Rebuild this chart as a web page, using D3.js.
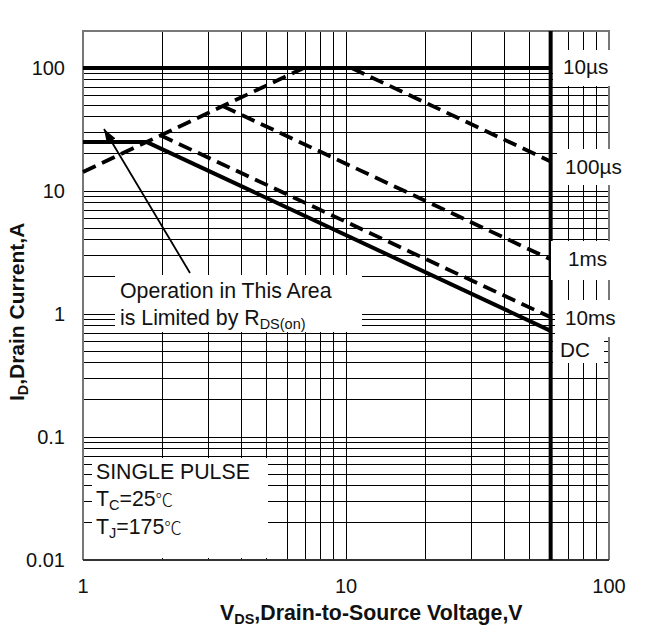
<!DOCTYPE html>
<html>
<head>
<meta charset="utf-8">
<script src="https://cdn.jsdelivr.net/npm/d3@7"></script>
<style>
  html, body { margin: 0; padding: 0; background: #fff; }
  svg { display: block; }
  text { font-family: "Liberation Sans", Arial, sans-serif; fill: #111; }
</style>
</head>
<body>
<svg id="chart" width="668" height="642"></svg>
<script>
// ---------- values ----------
const xMajor = [1, 10, 100];
const yMajor = [100, 10, 1, 0.1, 0.01];
const xMinor = [2, 3, 4, 5, 6, 7, 8, 9, 20, 30, 40, 50, 60, 70, 80, 90];
const yMinor = [90, 80, 70, 60, 50, 40, 30, 20,
  9, 8, 7, 6, 5, 4, 3, 2,
  0.9, 0.8, 0.7, 0.6, 0.5, 0.4, 0.3, 0.2,
  0.09, 0.08, 0.07, 0.06, 0.05, 0.04, 0.03, 0.02];

const currentLimit = [[1, 100], [60, 100]];
const voltageLimit = [[60, 200], [60, 0.01]];
const packageLimit = [[1, 25], [1.75, 25]];
const rdsLimit = [[1, 14.3], [6.9, 100]];
const curveDC = [[1.75, 25], [60, 0.73]];
const curve10ms = [[1.96, 28.5], [60, 0.94]];
const curve1ms = [[3.4, 49], [60, 2.78]];
const curve100us = [[10.5, 100], [60, 17.4]];

const svg = d3.select("#chart");
const x = d3.scaleLog().domain([1, 100]).range([83, 609]);
const y = d3.scaleLog().domain([0.01, 200]).range([560, 31]);
const line = d3.line().x((d) => x(d[0])).y((d) => y(d[1]));

// ---------- grid ----------
const grid = svg.append("g").attr("stroke", "#000").attr("stroke-width", 1).attr("shape-rendering", "crispEdges");
grid.selectAll("line.v").data(xMinor.concat([10])).join("line")
  .attr("class", "v")
  .attr("x1", (d) => x(d)).attr("x2", (d) => x(d))
  .attr("y1", y.range()[1]).attr("y2", y.range()[0]);
grid.selectAll("line.h").data(yMinor.concat([10, 1, 0.1])).join("line")
  .attr("class", "h")
  .attr("x1", x.range()[0]).attr("x2", x.range()[1])
  .attr("y1", (d) => y(d)).attr("y2", (d) => y(d));

// ---------- frame ----------
svg.append("path")
  .attr("d", `M${x.range()[0]},${y.range()[0]}V${y.range()[1]}H${x.range()[1]}V${y.range()[0]}`)
  .attr("fill", "none").attr("stroke", "#777").attr("stroke-width", 2);
svg.append("line")
  .attr("x1", x.range()[0]).attr("x2", x.range()[1])
  .attr("y1", y.range()[0]).attr("y2", y.range()[0])
  .attr("stroke", "#333").attr("stroke-width", 2);

// ---------- curves ----------
const curves = svg.append("g").attr("fill", "none").attr("stroke", "#000");
[currentLimit, voltageLimit, packageLimit, curveDC].forEach((c) => {
  curves.append("path").attr("d", line(c)).attr("stroke-width", 4);
});
[rdsLimit, curve10ms, curve1ms, curve100us].forEach((c) => {
  curves.append("path").attr("d", line(c)).attr("stroke-width", 3.8).attr("stroke-dasharray", "14 7");
});

// ---------- white label boxes over the grid ----------
const boxes = [
  [553, 50, 60, 36], [557, 149, 68, 36], [551, 241, 64, 39], [555, 300, 64, 37], [553, 337, 51, 26],
  [115, 275, 247, 57], [92, 458, 176, 100]
];
svg.append("g").selectAll("rect").data(boxes).join("rect")
  .attr("x", (d) => d[0]).attr("y", (d) => d[1])
  .attr("width", (d) => d[2]).attr("height", (d) => d[3])
  .attr("fill", "#fff");

// ---------- arrow ----------
svg.append("defs").append("marker")
  .attr("id", "head").attr("viewBox", "0 0 14 10").attr("refX", 14).attr("refY", 5)
  .attr("markerWidth", 14).attr("markerHeight", 11).attr("markerUnits", "userSpaceOnUse").attr("orient", "auto")
  .append("path").attr("d", "M0,0L14,5L0,10Z").attr("fill", "#000");
svg.append("line")
  .attr("x1", 190).attr("y1", 273).attr("x2", 104).attr("y2", 129)
  .attr("stroke", "#000").attr("stroke-width", 1.8).attr("marker-end", "url(#head)");

// ---------- tick labels ----------
const fmt = (d) => String(d);
svg.selectAll("text.xt").data(xMajor).join("text")
  .attr("class", "xt").attr("x", (d) => x(d)).attr("y", 593)
  .attr("text-anchor", "middle").attr("font-size", 20).text(fmt);
svg.selectAll("text.yt").data(yMajor).join("text")
  .attr("class", "yt").attr("x", 65).attr("y", (d) => y(d) + 7)
  .attr("text-anchor", "end").attr("font-size", 20).text(fmt);

// ---------- axis titles ----------
function rich(parent, px, py, parts, size, attrs) {
  const t = parent.append("text").attr("x", px).attr("y", py).attr("font-size", size);
  Object.entries(attrs || {}).forEach(([k, v]) => t.attr(k, v));
  parts.forEach((p) => {
    const s = t.append("tspan").text(p.t);
    if (p.sub) s.attr("font-size", size * 0.68).attr("dy", 4);
    else if (p.after) s.attr("dy", -4);
    if (p.font) s.style("font-family", p.font).attr("font-weight", p.weight || null).attr("font-size", p.size || null);
  });
  return t;
}
rich(svg, 220, 620, [{ t: "V" }, { t: "DS", sub: true }, { t: ",Drain-to-Source Voltage,V", after: true }], 21.3, { "font-weight": "bold" });
rich(svg, 24, 401, [{ t: "I" }, { t: "D", sub: true }, { t: ",Drain Current,A", after: true }], 21, { "font-weight": "bold", transform: "rotate(-90 24 401)" });

// ---------- annotations ----------
const deg = '"Noto Sans CJK SC"';
rich(svg, 120, 298, [{ t: "Operation in This Area" }], 21.3);
rich(svg, 120, 325, [{ t: "is Limited by R" }, { t: "DS(on)", sub: true }], 21.3);
rich(svg, 96, 479, [{ t: "SINGLE PULSE" }], 21.3);
rich(svg, 96, 506, [{ t: "T" }, { t: "C", sub: true }, { t: "=25", after: true }, { t: "℃", font: deg, weight: 300, size: 17.5 }], 21.3);
rich(svg, 96, 534, [{ t: "T" }, { t: "J", sub: true }, { t: "=175", after: true }, { t: "℃", font: deg, weight: 300, size: 17.5 }], 21.3);

const curveLabels = ["10µs", "100µs", "1ms", "10ms", "DC"];
const curveLabelPos = [[563, 74], [565, 174], [568, 266], [565, 325], [560, 357]];
svg.selectAll("text.cl").data(curveLabels).join("text")
  .attr("class", "cl").attr("x", (d, i) => curveLabelPos[i][0]).attr("y", (d, i) => curveLabelPos[i][1])
  .attr("font-size", 20.7).text((d) => d);
</script>
</body>
</html>
